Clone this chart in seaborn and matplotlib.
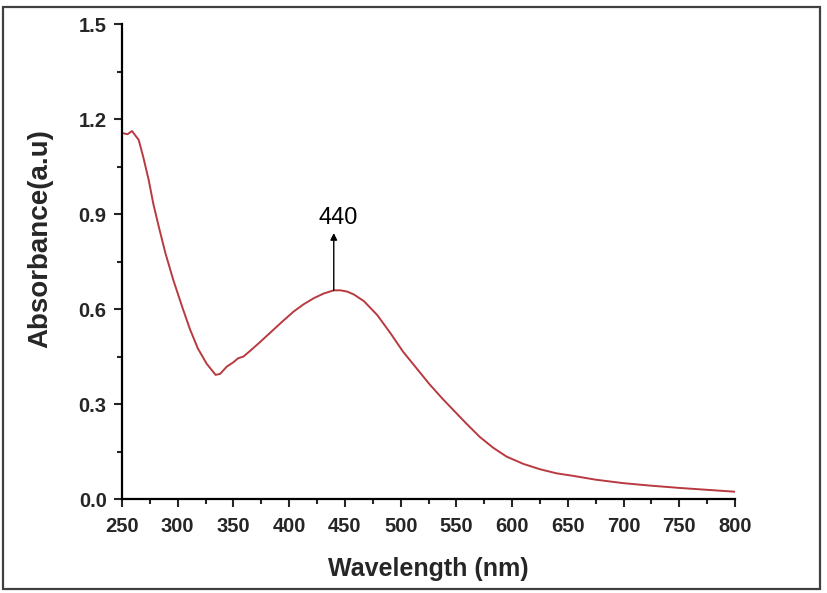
import matplotlib
matplotlib.use("Agg")
import matplotlib.pyplot as plt
import seaborn as sns
import pandas as pd
from matplotlib.patches import Rectangle
from matplotlib.ticker import MultipleLocator

# spectrum
wavelength = [251, 255, 259, 265, 269, 274, 278, 283, 289, 296, 304, 311, 318, 326,
              334, 338, 344, 350, 354, 359, 365, 374, 386, 395, 404, 413, 422, 431,
              440, 446, 452, 458, 467, 479, 491, 502, 514, 526, 538, 550, 559, 571,
              583, 595, 610, 625, 640, 655, 675, 700, 725, 750, 775, 800]
absorbance = [1.155, 1.152, 1.162, 1.134, 1.081, 1.007, 0.934, 0.860, 0.776, 0.692,
              0.607, 0.536, 0.476, 0.427, 0.392, 0.395, 0.418, 0.432, 0.444, 0.450,
              0.468, 0.496, 0.535, 0.564, 0.592, 0.615, 0.634, 0.649, 0.659, 0.659,
              0.655, 0.646, 0.625, 0.581, 0.523, 0.466, 0.414, 0.362, 0.315, 0.271,
              0.238, 0.196, 0.162, 0.134, 0.111, 0.094, 0.081, 0.073, 0.061, 0.050,
              0.042, 0.035, 0.029, 0.023]

peak_wl = 440
peak_abs = 0.659
peak_label = "440"

x_ticks = [250, 300, 350, 400, 450, 500, 550, 600, 650, 700, 750, 800]
y_ticks = [0.0, 0.3, 0.6, 0.9, 1.2, 1.5]

df = pd.DataFrame({"wavelength": wavelength, "absorbance": absorbance})

sns.set_style("ticks")
plt.rcParams["font.family"] = ["Liberation Sans", "DejaVu Sans"]

fig = plt.figure(figsize=(8.27, 5.93), dpi=100)
ax = fig.add_axes([0.1475, 0.1585, 0.7413, 0.801])

sns.lineplot(data=df, x="wavelength", y="absorbance", color="#b83a40", linewidth=1.4, ax=ax)

# peak marker arrow and label
ax.annotate("", xy=(peak_wl, 0.84), xytext=(peak_wl, peak_abs),
            arrowprops=dict(arrowstyle="-|>", color="black", lw=1.0, mutation_scale=10,
                            shrinkA=0, shrinkB=0))
ax.text(peak_wl + 4, 0.888, peak_label, ha="center", va="center", fontsize=17, color="black")

ax.set_xlim(250, 800)
ax.set_ylim(0, 1.5)
ax.set_xticks(x_ticks)
ax.set_yticks(y_ticks)
ax.set_yticklabels([f"{v:.1f}" for v in y_ticks])
ax.xaxis.set_minor_locator(MultipleLocator(25))
ax.yaxis.set_minor_locator(MultipleLocator(0.15))

for side in ["top", "right"]:
    ax.spines[side].set_visible(False)
for side in ["left", "bottom"]:
    ax.spines[side].set_linewidth(1.6)
    ax.spines[side].set_color("black")

ax.tick_params(which="major", direction="out", length=6, width=1.5, labelsize=14.5, pad=5)
ax.tick_params(which="minor", direction="out", length=3.5, width=1.5)
ax.tick_params(axis="x", which="major", pad=7)
for lab in ax.get_xticklabels() + ax.get_yticklabels():
    lab.set_fontweight("bold")

ax.set_xlabel("Wavelength (nm)", fontsize=18, fontweight="bold", labelpad=15)
ax.set_ylabel("Absorbance(a.u)", fontsize=20, fontweight="bold")
ax.yaxis.set_label_coords(-0.112, 0.549)

# outer frame around the whole picture
fig.patches.append(Rectangle((0.004, 0.007), 0.987, 0.982, transform=fig.transFigure,
                             fill=False, edgecolor="#404040", linewidth=1.6))

fig.savefig("out.png", dpi=100)
